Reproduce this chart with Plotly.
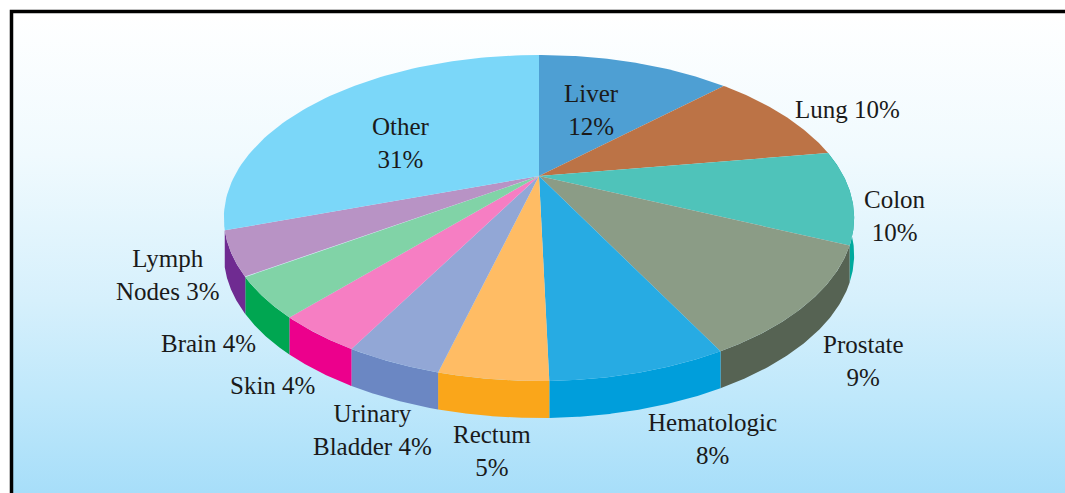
import numpy as np
from plotly.graph_objects import Figure, Scatter

# Categories and the percentages printed on the chart
categories = ['Liver', 'Lung', 'Colon', 'Prostate', 'Hematologic', 'Rectum',
              'Urinary Bladder', 'Skin', 'Brain', 'Lymph Nodes', 'Other']
percents = [12, 10, 10, 9, 8, 5, 4, 4, 4, 3, 31]
# The drawn slices don't quite follow the printed numbers, so sweep is read off the picture
slice_shares = [12.7, 9.8, 9.2, 10.7, 7.2, 4.4, 3.9, 3.6, 3.9, 4.3, 30.3]

top_colors = ['#4E9FD3', '#BC7346', '#4FC3BA', '#8B9C86', '#27ABE3', '#FFBC64',
              '#92A7D6', '#F67EC3', '#81D3A7', '#B893C5', '#7BD7F9']
wall_colors = [None, None, '#00A99D', '#566353', '#009EDB', '#FAA61A',
               '#6B87C3', '#EC008C', '#00A651', '#6F2B91', None]

label_text = ['Liver<br>12%', 'Lung 10%', 'Colon<br>10%', 'Prostate<br>9%', 'Hematologic<br>8%',
              'Rectum<br>5%', 'Urinary<br>Bladder 4%', 'Skin 4%', 'Brain 4%',
              'Lymph<br>Nodes 3%', 'Other<br>31%']
label_x = [591, 847, 895, 863, 712, 492, 372, 272, 208, 167, 401]
label_y = [110, 109, 216, 361, 439, 451, 430, 385, 343, 275, 143]

# Tilted pie: perspective from a circle, apex sits above the ellipse middle
CX, CY = 539, 176
A, B, K = 304.5, 152.2, 0.2577
DEPTH = 37


def rim(t0, t1):
    t = np.radians(np.linspace(t0, t1, 80))
    d = 1 + K * np.cos(t)
    return CX + A * np.sin(t) / d, CY - B * np.cos(t) / d


fig = Figure()

# Background panel with the vertical gradient
fig.add_trace(Scatter(
    x=[11.5, 1100, 1100, 11.5, 11.5], y=[11.5, 11.5, 493, 493, 11.5],
    mode='lines', line=dict(width=0), fill='toself', hoverinfo='skip',
    fillgradient=dict(
        type='vertical', start=11.5, stop=493,
        colorscale=[[0, '#FFFFFF'], [0.3, '#F0FAFE'], [0.6, '#D6F0FC'], [0.8, '#BFE8FB'], [1, '#A7DEF9']]
    )
))

edges = np.cumsum([0] + slice_shares) * 3.6

# Side walls first, the top faces cover whatever is hidden
for i, color in enumerate(wall_colors):
    if color is None:
        continue
    x, y = rim(edges[i], edges[i + 1])
    fig.add_trace(Scatter(
        x=np.r_[x, x[::-1]], y=np.r_[y, y[::-1] + DEPTH],
        mode='lines', line=dict(width=0), fill='toself', fillcolor=color,
        name=categories[i], hoverinfo='name'
    ))

for i, color in enumerate(top_colors):
    x, y = rim(edges[i], edges[i + 1])
    fig.add_trace(Scatter(
        x=np.r_[CX, x, CX], y=np.r_[CY, y, CY],
        mode='lines', line=dict(width=0), fill='toself', fillcolor=color,
        name=f"{categories[i]} {percents[i]}%", hoverinfo='name'
    ))

for text, x, y in zip(label_text, label_x, label_y):
    fig.add_annotation(x=x, y=y, text=text, showarrow=False, xanchor='center', yanchor='middle',
                       font=dict(family='Liberation Serif', size=25, color='#1A1A1A'))

fig.update_layout(
    width=1065, height=493,
    margin=dict(l=0, r=0, t=0, b=0),
    paper_bgcolor='white', plot_bgcolor='white',
    showlegend=False,
    xaxis=dict(range=[0, 1065], visible=False),
    yaxis=dict(range=[493, 0], visible=False),
    # Black frame, open at the right and bottom where the picture is cut
    shapes=[dict(type='path', path='M 11.5 493 L 11.5 11.5 L 1065 11.5',
                 line=dict(color='black', width=3.5))]
)

# Page default body margin would push the plot 8px off
fig.write_html("out.html", config=dict(displayModeBar=False),
               post_script="document.body.style.margin='0';document.body.style.overflow='hidden';")
